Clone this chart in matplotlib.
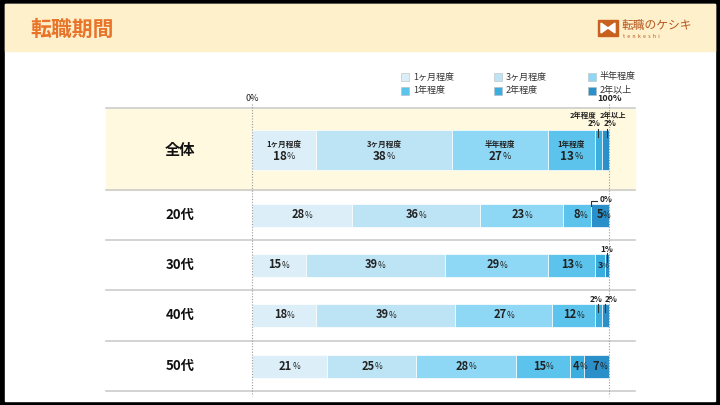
import matplotlib.pyplot as plt
from matplotlib.patches import Rectangle, Polygon

plt.rcParams['font.family'] = ['Noto Sans CJK JP', 'DejaVu Sans']

groups = ['全体', '20代', '30代', '40代', '50代']
categories = ['1ヶ月程度', '3ヶ月程度', '半年程度', '1年程度', '2年程度', '2年以上']
values = [
    [18, 38, 27, 13, 2, 2],
    [28, 36, 23, 8, 0, 5],
    [15, 39, 29, 13, 3, 1],
    [18, 39, 27, 12, 2, 2],
    [21, 25, 28, 15, 4, 7],
]
colors = ['#DCEEF8', '#BDE4F4', '#8ED8F6', '#5CC4EC', '#3BAEE0', '#2B8FC9']

W, H = 720, 405
fig = plt.figure(figsize=(7.2, 4.05), dpi=100)

# background layer in pixel coordinates
bg = fig.add_axes([0, 0, 1, 1])
bg.set_xlim(0, W)
bg.set_ylim(H, 0)
bg.axis('off')
bg.add_patch(Rectangle((0, 0), W, H, color='black'))
bg.add_patch(Rectangle((5, 4), 710, 397, color='white'))
bg.add_patch(Rectangle((5, 4), 710, 47, color='#FFF0CC'))
bg.text(30, 29, '転職期間', color='#E8742A', fontsize=15, fontweight='bold', va='center')

# logo
bg.add_patch(Rectangle((598, 20), 20, 16, color='#C8601E'))
bg.add_patch(Polygon([(601, 23), (608, 28), (601, 33)], color='white'))
bg.add_patch(Polygon([(615, 23), (608, 28), (615, 33)], color='white'))
bg.text(621, 26, '転職のケシキ', color='#B5561C', fontsize=8.5, va='center')
bg.text(623, 36, '  '.join('tenkeshi'), color='#B5561C', fontsize=3.8, va='center')

# legend
leg_x = [401, 494, 588]
leg_y = [77, 91]
for i, cat in enumerate(categories):
    x = leg_x[i % 3]
    y = leg_y[i // 3]
    bg.add_patch(Rectangle((x, y - 4), 8, 8, facecolor=colors[i], edgecolor='#BBBBBB', lw=0.4))
    bg.text(x + 12, y, cat, fontsize=6.5, color='#333333', va='center')

# rows
bg.add_patch(Rectangle((106, 109), 529, 81, color='#FFF9E0'))
for y in [108, 190, 240, 290, 341, 391]:
    bg.plot([106, 635], [y, y], color='#CCCCCC', lw=1.2)
row_y = [150, 215, 265, 315, 366]
for g, y in zip(groups, row_y):
    bg.text(180, y, g, fontsize=11 if g == '全体' else 9.5, fontweight='bold',
            ha='center', va='center', color='#111111')

# chart layer: x in percent, 0 -> 252px, 100 -> 609px
x0, x1 = 252, 609
sc = (x1 - x0) / 100
ax = fig.add_axes([0, 0, 1, 1])
ax.set_xlim(-x0 / sc, (W - x0) / sc)
ax.set_ylim(H, 0)
ax.axis('off')
ax.patch.set_alpha(0)

for v in [0, 100]:
    ax.plot([v, v], [104, 396], color='#999999', lw=0.8, ls=(0, (1, 1.5)))
ax.text(0, 103, '0%', fontsize=6.5, ha='center', va='bottom', color='#222222')
ax.text(100, 103, '100%', fontsize=6.5, ha='center', va='bottom', color='#222222', fontweight='bold')

heights = [40, 23, 23, 23, 23]


def pct(x, y, v, size=8):
    ax.text(x, y, str(v), fontsize=size, fontweight='bold', ha='right', va='center', color='#222222')
    ax.text(x, y + 0.5, '%', fontsize=size - 2, ha='left', va='center', color='#222222')


for r, (vals, y, h) in enumerate(zip(values, row_y, heights)):
    left = 0
    for i, v in enumerate(vals):
        ax.barh(y, v, left=left, height=h, color=colors[i], edgecolor='white', lw=0.5)
        cx = left + v / 2
        if r == 0:
            if v >= 10:
                ax.text(cx, y - 6, categories[i], fontsize=5.5, fontweight='bold',
                        ha='center', va='center', color='#222222')
                pct(cx + 0.8, y + 6, v, 8.5)
        elif v >= 3:
            pct(cx + 0.8, y, v, 8 if v >= 4 else 6.5)
        left += v

# small-value callouts
# 全体
ax.text(92.7, 115, '2年程度', fontsize=5.3, fontweight='bold', ha='center', va='center', color='#222222')
ax.text(95.9, 124, '2%', fontsize=6, fontweight='bold', ha='center', va='center', color='#222222')
ax.text(101.2, 115, '2年以上', fontsize=5.3, fontweight='bold', ha='center', va='center', color='#222222')
ax.text(100.4, 124, '2%', fontsize=6, fontweight='bold', ha='center', va='center', color='#222222')
ax.plot([97, 97], [129, 137], color='#333333', lw=0.8)
ax.plot([99.4, 99.4], [129, 137], color='#333333', lw=0.8)
# 20代
ax.text(97.5, 199, '0%', fontsize=6, fontweight='bold', ha='left', va='center', color='#222222')
ax.plot([95, 95, 96.5], [206, 201, 201], color='#333333', lw=0.8)
# 30代
ax.text(99.3, 250, '1%', fontsize=6, fontweight='bold', ha='center', va='center', color='#222222')
ax.plot([99.5, 99.5], [253, 262], color='#333333', lw=0.8)
# 40代
ax.text(96.5, 300, '2%', fontsize=6, fontweight='bold', ha='center', va='center', color='#222222')
ax.text(100.6, 300, '2%', fontsize=6, fontweight='bold', ha='center', va='center', color='#222222')
ax.plot([97, 97], [304, 312], color='#333333', lw=0.8)
ax.plot([99, 99], [304, 312], color='#333333', lw=0.8)

fig.savefig('out.png', dpi=100)
